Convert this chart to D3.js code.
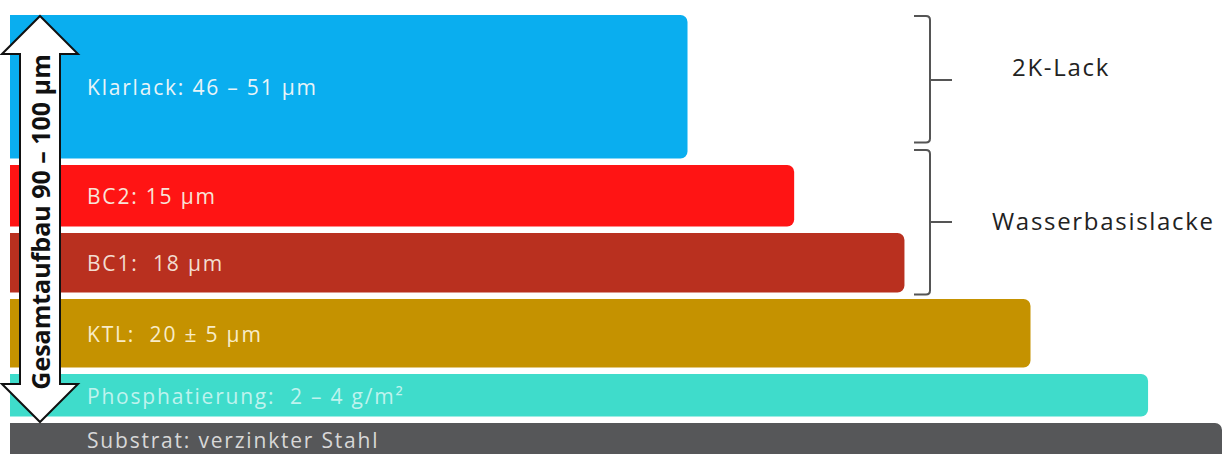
<!DOCTYPE html>
<html>
<head>
<meta charset="utf-8">
<script src="https://cdn.jsdelivr.net/npm/d3@7"></script>
<style>
  body { margin: 0; background: #fff; }
  svg { display: block; font-family: "Open Sans", sans-serif; }
</style>
</head>
<body>
<div id="chart-area"></div>
<script>
// layers, top to bottom
var layerNames = ["Klarlack", "BC2", "BC1", "KTL", "Phosphatierung", "Substrat"];
var layerLabels = [
    "Klarlack: 46 \u2013 51 \u00b5m",
    "BC2: 15 \u00b5m",
    "BC1:  18 \u00b5m",
    "KTL:  20 \u00b1 5 \u00b5m",
    "Phosphatierung:  2 \u2013 4 g/m\u00b2",
    "Substrat: verzinkter Stahl"
];
// bar length, relative (substrate = 100)
var layerLengths = [55.9, 64.7, 73.8, 84.2, 93.9, 100];
// drawn layer thickness, relative units (substrate runs off the bottom)
var layerThickness = [150, 68, 66, 75, 49, 50];
var layerColors = ["#0aaeef", "#ff1414", "#b9301f", "#c59200", "#3fdccb", "#565759"];
var labelColors = ["#e8f4f8", "#f8e4d8", "#f2ddd0", "#f8ecc8", "#bff3ee", "#d8d8d8"];

// groups on the right
var groupNames = ["2K-Lack", "Wasserbasislacke"];
var groupFrom = [0, 1];   // first layer index
var groupTo = [0, 2];     // last layer index

var totalLabel = "Gesamtaufbau 90 \u2013 100 \u00b5m";

var W = 1228, H = 454;
var gap = 6.5;

var svg = d3.select("#chart-area")
    .append("svg")
    .attr("width", W)
    .attr("height", H);

var x = d3.scaleLinear().domain([0, 100]).range([10, 1222]);

var cum = d3.cumsum(layerThickness);
var starts = layerThickness.map(function (d, i) { return cum[i] - d; });
var total = cum[cum.length - 1];
var y = d3.scaleLinear().domain([0, total]).range([15, 15 + total]);

var layers = layerNames.map(function (n, i) {
    return {
        name: n,
        label: layerLabels[i],
        len: layerLengths[i],
        y0: y(starts[i]),
        y1: y(cum[i]) - gap,
        color: layerColors[i],
        labelColor: labelColors[i]
    };
});

// bar with square left and rounded right corners
function barPath(d) {
    var x0 = x(0), x1 = x(d.len), r = 7;
    var p = d3.path();
    p.moveTo(x0, d.y0);
    p.lineTo(x1 - r, d.y0);
    p.arcTo(x1, d.y0, x1, d.y0 + r, r);
    p.lineTo(x1, d.y1 - r);
    p.arcTo(x1, d.y1, x1 - r, d.y1, r);
    p.lineTo(x0, d.y1);
    p.closePath();
    return p.toString();
}

svg.selectAll("path.bar")
    .data(layers)
    .enter()
    .append("path")
    .attr("class", "bar")
    .attr("d", barPath)
    .attr("fill", function (d) { return d.color; });

svg.selectAll("text.bar-label")
    .data(layers)
    .enter()
    .append("text")
    .attr("class", "bar-label")
    .attr("x", 87)
    .attr("y", function (d, i) {
        // substrate is cut off at the bottom, label sits near the edge
        return i === layers.length - 1 ? 441 : (d.y0 + d.y1) / 2 + 1;
    })
    .attr("dy", "0.35em")
    .attr("font-size", "21px")
    .attr("letter-spacing", "1.8px")
    .attr("fill", function (d) { return d.labelColor; })
    .style("white-space", "pre")
    .text(function (d) { return d.label; });

// double arrow on the left
var ax = 40, aTop = y(0) + 1, aBot = layers[layers.length - 1].y0 - 1;
var shaft = 20, head = 38, headLen = 38;
var arrow = d3.path();
arrow.moveTo(ax, aTop);
arrow.lineTo(ax + head, aTop + headLen);
arrow.lineTo(ax + shaft, aTop + headLen);
arrow.lineTo(ax + shaft, aBot - headLen);
arrow.lineTo(ax + head, aBot - headLen);
arrow.lineTo(ax, aBot);
arrow.lineTo(ax - head, aBot - headLen);
arrow.lineTo(ax - shaft, aBot - headLen);
arrow.lineTo(ax - shaft, aTop + headLen);
arrow.lineTo(ax - head, aTop + headLen);
arrow.closePath();

svg.append("path")
    .attr("d", arrow.toString())
    .attr("fill", "#fff")
    .attr("stroke", "#111")
    .attr("stroke-width", 2);

svg.append("text")
    .attr("transform", "translate(" + (ax + 1) + "," + ((aTop + aBot) / 2 + 3) + ") rotate(-90)")
    .attr("text-anchor", "middle")
    .attr("dy", "0.35em")
    .attr("font-size", "25px")
    .attr("font-weight", "bold")
    .attr("fill", "#111")
    .text(totalLabel);

// braces
var bx = 930;
groupNames.forEach(function (name, i) {
    var t = layers[groupFrom[i]].y0 + 1;
    var b = i === 0 ? layers[groupTo[i]].y1 - 16 : layers[groupTo[i]].y1 + 2;
    if (i === 1) t = layers[groupFrom[i]].y0 - 15;
    var m = i === 0 ? 80 : 222;
    var br = d3.path();
    br.moveTo(bx - 16, t);
    br.lineTo(bx - 4, t);
    br.quadraticCurveTo(bx, t, bx, t + 4);
    br.lineTo(bx, b - 4);
    br.quadraticCurveTo(bx, b, bx - 4, b);
    br.lineTo(bx - 16, b);
    br.moveTo(bx, m);
    br.lineTo(bx + 22, m);
    svg.append("path")
        .attr("d", br.toString())
        .attr("fill", "none")
        .attr("stroke", "#555")
        .attr("stroke-width", 2);

    svg.append("text")
        .attr("x", i === 0 ? 1012 : 992)
        .attr("y", i === 0 ? 68 : m)
        .attr("dy", "0.35em")
        .attr("font-size", "24px")
        .attr("letter-spacing", "1.7px")
        .attr("fill", "#222")
        .text(name);
});
</script>
</body>
</html>
